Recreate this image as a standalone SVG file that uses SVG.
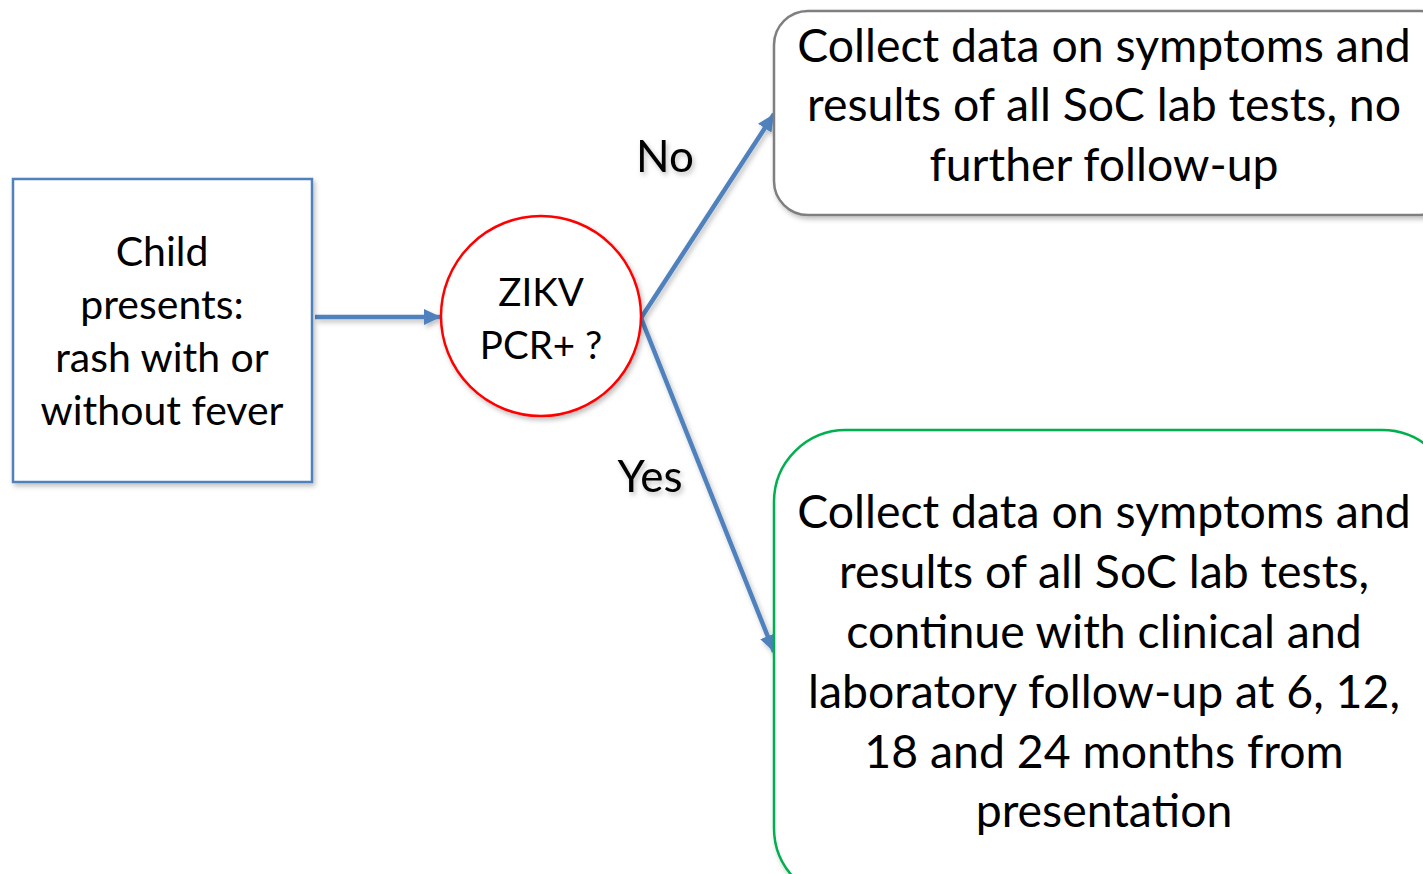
<svg xmlns="http://www.w3.org/2000/svg" width="1423" height="874" viewBox="0 0 1423 874">
  <style>
    .txt { font-family: Lato, "Liberation Sans", sans-serif; fill: #000; text-anchor: middle; }
    .big { font-size: 46.4px; }
    .mid { font-size: 41px; }
    .circ { font-size: 38.5px; }
    .lbl { font-size: 44px; }
    .conn { stroke: #4f81bd; stroke-width: 4.5; fill: none; }
  </style>
  <defs>
    <filter id="shadow" x="-10%" y="-10%" width="130%" height="130%">
      <feDropShadow dx="2" dy="3" stdDeviation="2.5" flood-color="#000" flood-opacity="0.25"/>
    </filter>
    <marker id="arrow" markerUnits="userSpaceOnUse" markerWidth="18" markerHeight="16" refX="17" refY="8" orient="auto">
      <path d="M0,0 L17,8 L0,16 Z" fill="#4f81bd"/>
    </marker>
  </defs>
  <rect width="1423" height="874" fill="#fff"/>

  <!-- connectors -->
  <g id="connectors" filter="url(#shadow)">
    <line class="conn" x1="315" y1="317" x2="441" y2="317" marker-end="url(#arrow)"/>
    <line class="conn" x1="641" y1="318" x2="774" y2="114" marker-end="url(#arrow)"/>
    <line class="conn" x1="641" y1="318" x2="774" y2="652" marker-end="url(#arrow)"/>
    <text class="txt lbl" x="665" y="172">No</text>
    <text class="txt lbl" x="650" y="492">Yes</text>
  </g>

  <!-- start node -->
  <g id="start">
    <rect x="13" y="179" width="299" height="303" fill="#fff" stroke="#4f81bd" stroke-width="2.5" filter="url(#shadow)"/>
    <text class="txt mid" x="162" y="266">Child</text>
    <text class="txt mid" x="162" y="319">presents:</text>
    <text class="txt mid" x="162" y="372">rash with or</text>
    <text class="txt mid" x="162" y="425">without fever</text>
  </g>

  <!-- decision node -->
  <g id="decision">
    <circle cx="541" cy="316" r="100" fill="#fff" stroke="#ff0000" stroke-width="2.5" filter="url(#shadow)"/>
    <text class="txt circ" x="541" y="306">ZIKV</text>
    <text class="txt circ" x="541" y="359">PCR+ ?</text>
  </g>

  <!-- negative outcome -->
  <g id="negative">
    <rect x="774" y="11" width="680" height="204" rx="34" ry="34" fill="#fff" stroke="#7f7f7f" stroke-width="2.5" filter="url(#shadow)"/>
    <text class="txt big" x="1104" y="62">Collect data on symptoms and</text>
    <text class="txt big" x="1104" y="121">results of all SoC lab tests, no</text>
    <text class="txt big" x="1104" y="181">further follow-up</text>
  </g>

  <!-- positive outcome -->
  <g id="positive">
    <rect x="774" y="430" width="680" height="470" rx="72" ry="72" fill="#fff" stroke="#00b050" stroke-width="2.5" filter="url(#shadow)"/>
    <text class="txt big" x="1104" y="528">Collect data on symptoms and</text>
    <text class="txt big" x="1104" y="588">results of all SoC lab tests,</text>
    <text class="txt big" x="1104" y="648">continue with clinical and</text>
    <text class="txt big" x="1104" y="708">laboratory follow-up at 6, 12,</text>
    <text class="txt big" x="1104" y="768">18 and 24 months from</text>
    <text class="txt big" x="1104" y="827">presentation</text>
  </g>
</svg>
